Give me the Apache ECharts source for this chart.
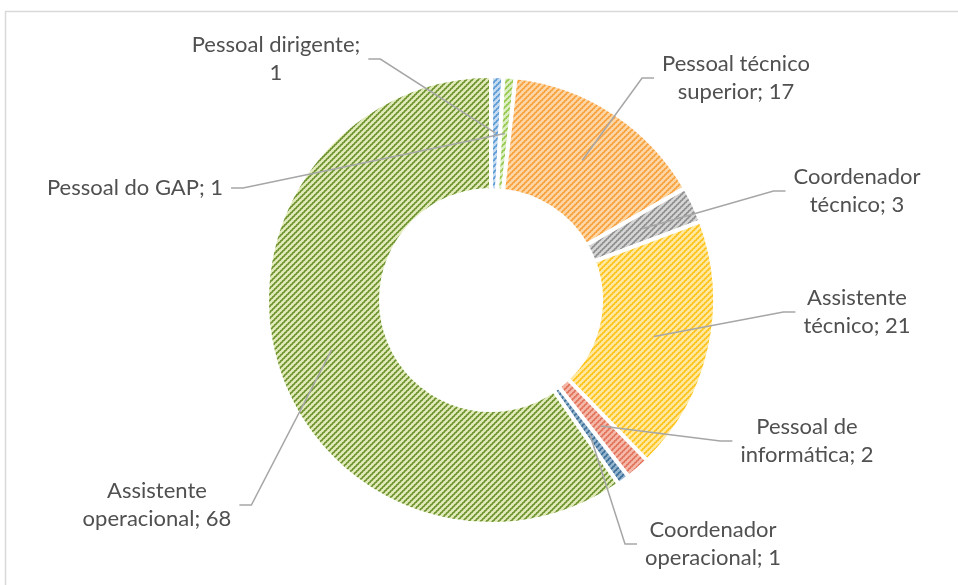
<!DOCTYPE html>
<html>
<head>
<meta charset="utf-8">
<script src="https://cdn.jsdelivr.net/npm/echarts@6/dist/echarts.min.js"></script>
<style>
  html, body { margin: 0; padding: 0; background: #fff; }
  #chart { width: 958px; height: 585px; }
</style>
</head>
<body>
<div id="chart"></div>
<script>
const categories = [
  "Pessoal dirigente",
  "Pessoal do GAP",
  "Pessoal técnico superior",
  "Coordenador técnico",
  "Assistente técnico",
  "Pessoal de informática",
  "Coordenador operacional",
  "Assistente operacional",
];
const values = [1, 1, 17, 3, 21, 2, 1, 68];
// words before the line break in each label (0 = single line)
const wrapAfter = [2, 0, 2, 1, 1, 2, 1, 1];

// [dark stripe, light background] per slice
const colorList = [
  ["#5b9bd5", "#c6dbf0"],
  ["#96c84e", "#ddefc4"],
  ["#f8a13c", "#fdd6a6"],
  ["#8e8e8e", "#d4d4d4"],
  ["#ffc21a", "#ffe8a0"],
  ["#e2725a", "#f4b8a8"],
  ["#3d6f98", "#94b3cd"],
  ["#6e922e", "#dfeab8"],
];

// label centres, as placed in the original
const labelPos = [
  [276, 59], [135, 188], [736, 78], [857, 191],
  [857, 312], [807, 441], [713, 544], [157, 505],
];

const cx = 491, cy = 300, rIn = 110, rOut = 224;
const labelFont = "22px Lato";

function hatch(dark, light) {
  const c = document.createElement("canvas");
  c.width = 6;
  c.height = 6;
  const ctx = c.getContext("2d");
  ctx.fillStyle = light;
  ctx.fillRect(0, 0, 6, 6);
  for (let x = 0; x < 6; x++) {
    for (let y = 0; y < 6; y++) {
      const k = (x + y) % 6;
      if (k === 5) {
        ctx.fillStyle = dark;
        ctx.fillRect(x, y, 1, 1);
      } else if (k === 0 || k === 4) {
        ctx.globalAlpha = (x % 2 === 0) ? 0.85 : 0.55;
        ctx.fillStyle = dark;
        ctx.fillRect(x, y, 1, 1);
        ctx.globalAlpha = 1;
      }
    }
  }
  return { image: c, repeat: "repeat" };
}

function labelText(i) {
  const words = (categories[i] + "; " + values[i]).split(" ");
  const n = wrapAfter[i];
  if (!n) return words.join(" ");
  return words.slice(0, n).join(" ") + "\n" + words.slice(n).join(" ");
}

const measureCtx = document.createElement("canvas").getContext("2d");
function labelWidth(i) {
  measureCtx.font = labelFont;
  return Math.max(...labelText(i).split("\n").map((s) => measureCtx.measureText(s).width));
}

const chart = echarts.init(document.getElementById("chart"));

chart.setOption({
  backgroundColor: "#fff",
  animation: false,
  graphic: [
    {
      type: "rect",
      id: "frame",
      shape: { x: 5.5, y: 11.5, width: 980, height: 600 },
      style: { fill: "none", stroke: "#d9d9d9", lineWidth: 1.5 },
      silent: true,
    },
  ],
  series: [
    {
      type: "pie",
      center: [cx, cy],
      radius: [rIn, rOut],
      startAngle: 90,
      clockwise: true,
      avoidLabelOverlap: false,
      data: categories.map((name, i) => ({
        name: name,
        value: values[i],
        itemStyle: { color: hatch(colorList[i][0], colorList[i][1]) },
      })),
      itemStyle: {
        borderColor: "#fff",
        borderWidth: 4,
      },
      label: {
        show: true,
        position: "outside",
        formatter: (p) => labelText(p.dataIndex),
        color: "#505050",
        fontFamily: "Lato, sans-serif",
        fontSize: 22,
        lineHeight: 28,
        align: "center",
      },
      labelLine: { show: false },
      labelLayout: function (params) {
        const pos = labelPos[params.dataIndex];
        return { x: pos[0], y: pos[1], align: "center", verticalAlign: "middle" };
      },
    },
  ],
});

// leader lines: from the middle of the ring at each slice's mid angle to its label
const pieData = chart.getModel().getSeriesByIndex(0).getData();
const leaders = categories.map((_, i) => {
  const l = pieData.getItemLayout(i);
  const a = (l.startAngle + l.endAngle) / 2;
  const r = (l.r + l.r0) / 2;
  const anchor = [l.cx + r * Math.cos(a), l.cy + r * Math.sin(a)];
  const pos = labelPos[i];
  const side = anchor[0] > pos[0] ? 1 : -1;
  const edge = [pos[0] + side * (labelWidth(i) / 2 + 8), pos[1]];
  const knee = [edge[0] + side * 12, pos[1]];
  return {
    type: "polyline",
    id: "leader" + i,
    z: 100,
    silent: true,
    shape: { points: [edge, knee, anchor] },
    style: { stroke: "#a6a6a6", lineWidth: 1.5, fill: null },
  };
});
chart.setOption({ graphic: leaders });
</script>
</body>
</html>
